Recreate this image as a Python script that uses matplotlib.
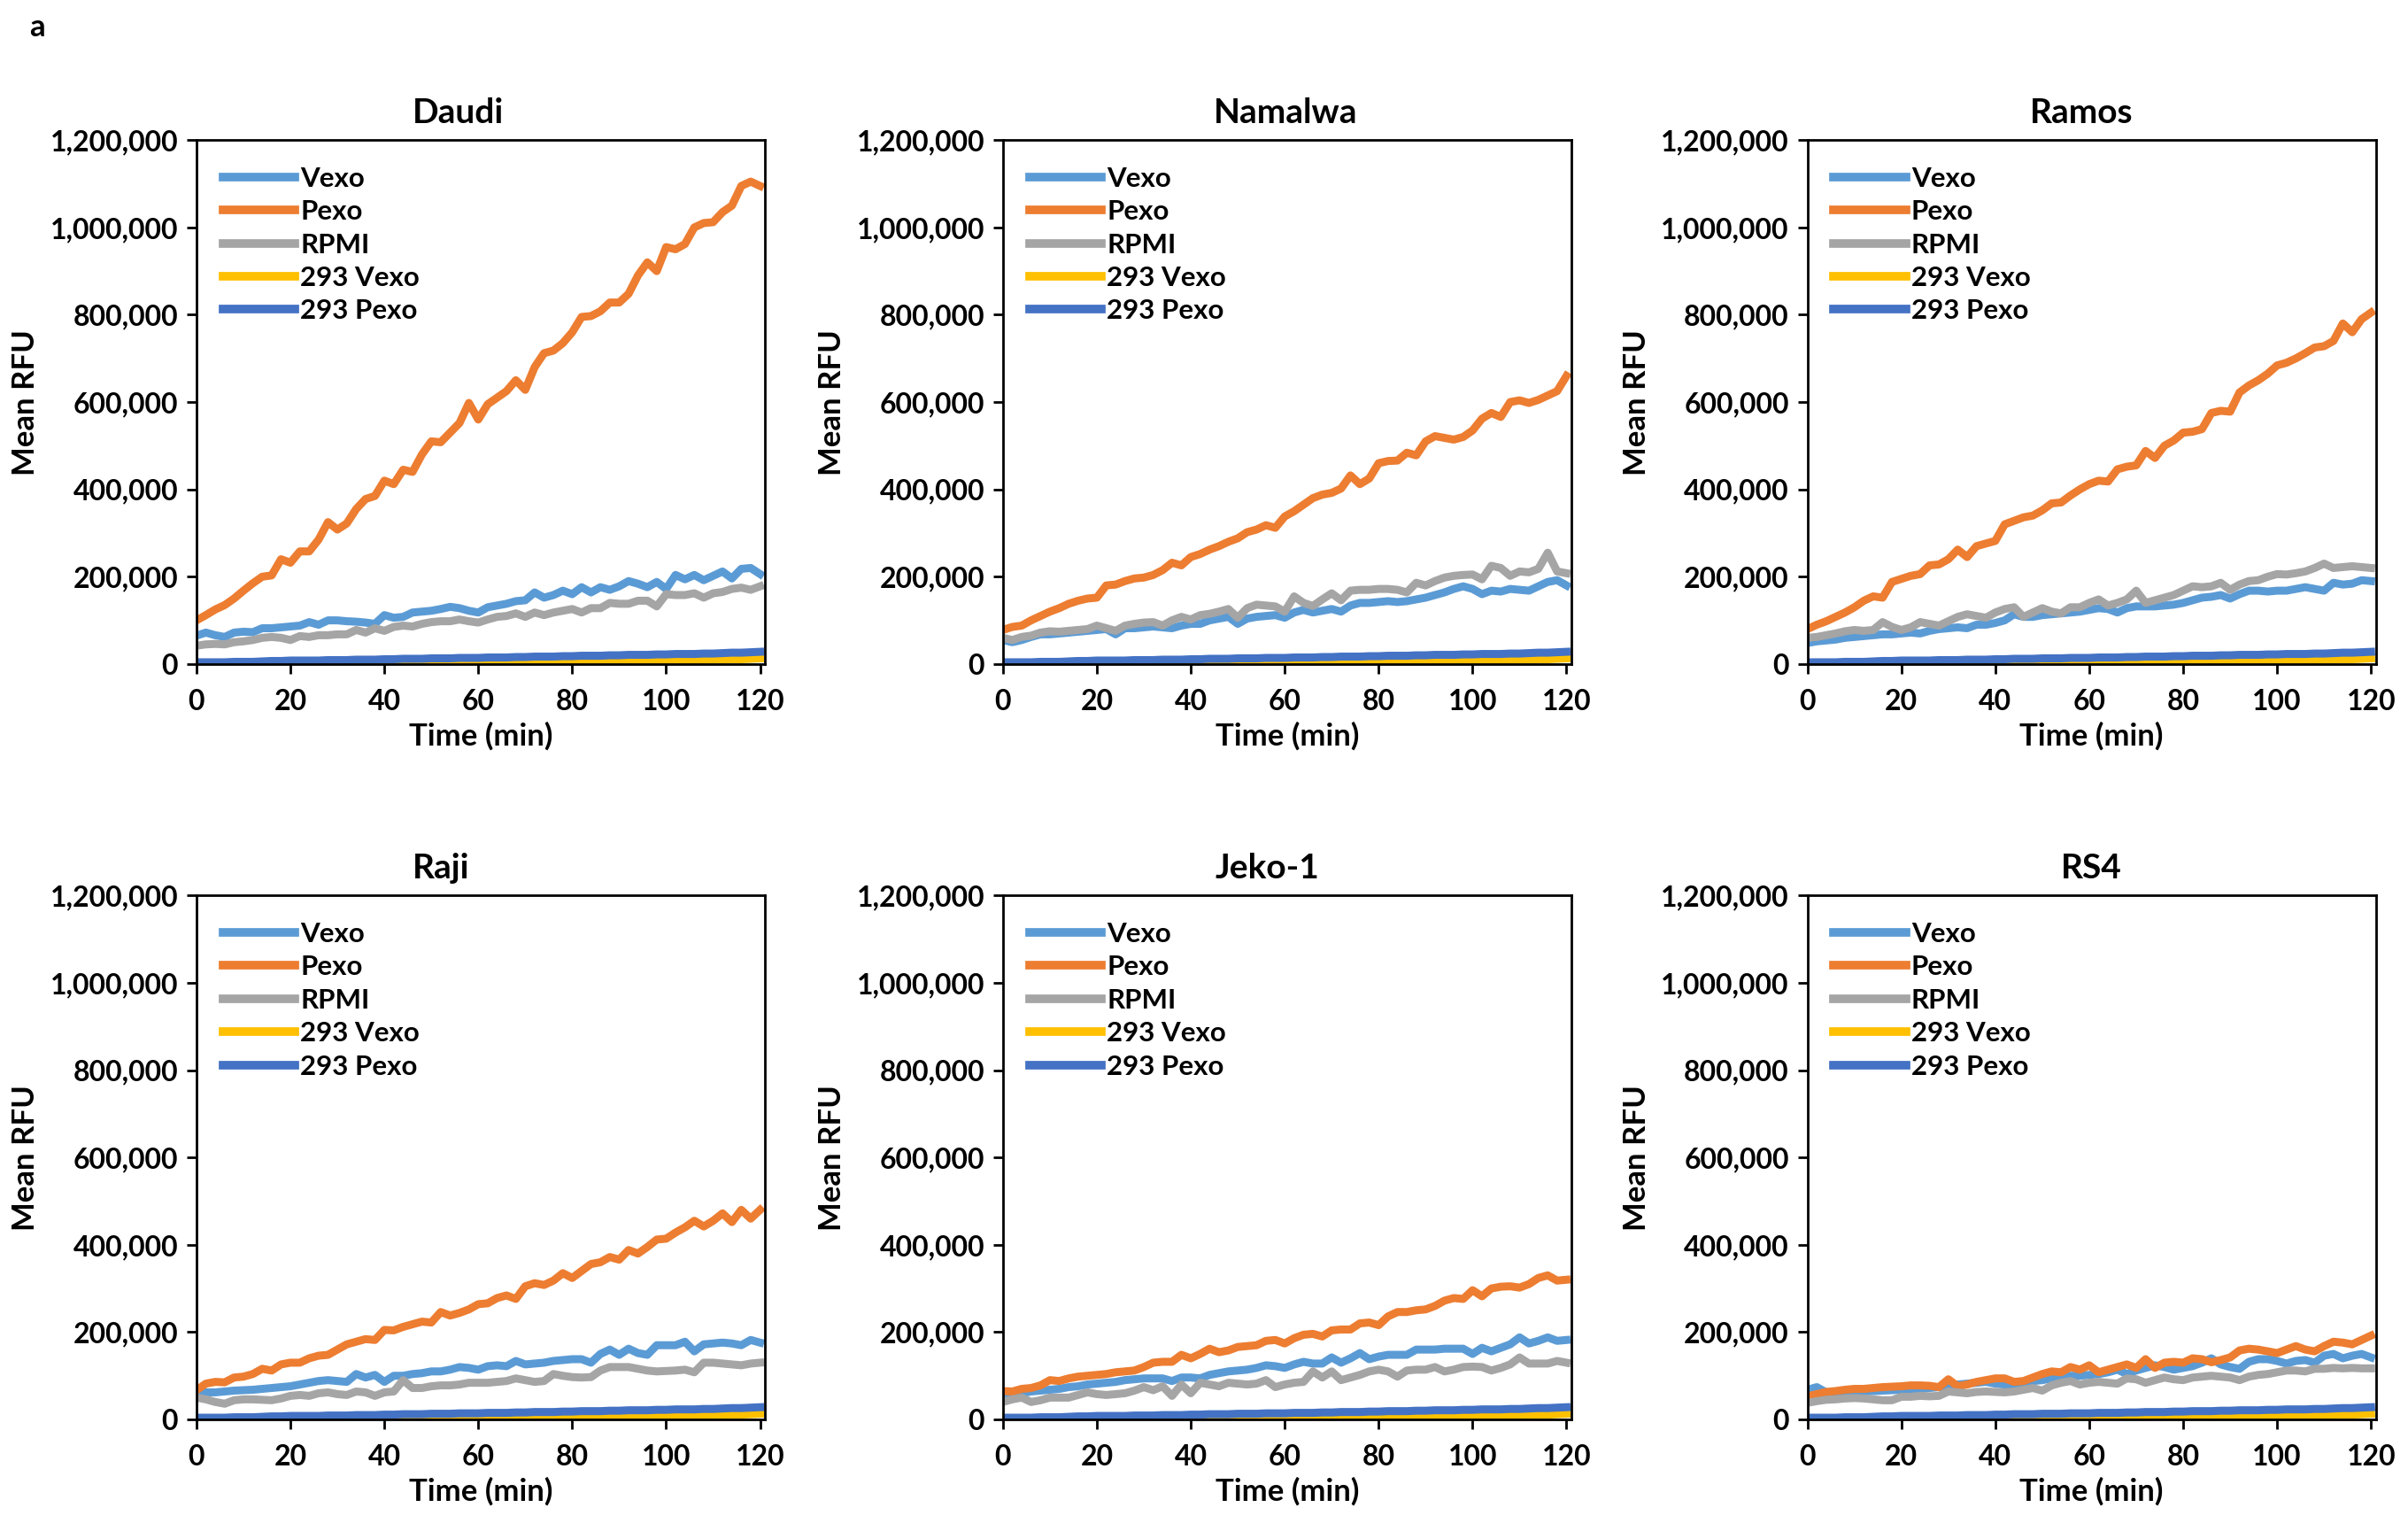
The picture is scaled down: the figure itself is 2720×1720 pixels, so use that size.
import numpy as np
import matplotlib
matplotlib.use('Agg')
import matplotlib.pyplot as plt
from matplotlib.ticker import FuncFormatter

plt.rcParams['font.family'] = ['Lato', 'DejaVu Sans']
plt.rcParams['font.weight'] = 'bold'

# Tempo de leitura (min)
time_min = list(range(0, 122, 2))

series_names = ['Vexo', 'Pexo', 'RPMI', '293 Vexo', '293 Pexo']
series_colors = ['#5B9BD5', '#ED7D31', '#A5A5A5', '#FFC000', '#4472C4']
panel_titles = ['Daudi', 'Namalwa', 'Ramos', 'Raji', 'Jeko-1', 'RS4']

# Valores em milhares de RFU
daudi_vexo = [65, 72, 66, 62, 72, 74, 73, 82, 82, 84, 86, 88, 96, 90, 100, 100, 98, 97, 95, 92,
              112, 106, 108, 118, 120, 122, 126, 131, 128, 122, 118, 130, 134, 138, 144, 146, 164, 152, 158, 168,
              160, 176, 164, 176, 170, 178, 190, 184, 176, 188, 172, 204, 194, 204, 192, 202, 212, 196, 218, 220, 206]
daudi_pexo = [100, 112, 125, 135, 150, 168, 185, 200, 203, 240, 232, 258, 258, 285, 325, 308, 322, 355, 378, 385,
              420, 412, 445, 440, 480, 510, 508, 530, 552, 598, 560, 595, 610, 625, 650, 628, 680, 712, 718, 735,
              760, 795, 797, 808, 828, 828, 848, 890, 920, 900, 955, 950, 962, 1000, 1010, 1012, 1035, 1050, 1095, 1105, 1095]
daudi_rpmi = [42, 45, 46, 45, 50, 52, 55, 60, 62, 60, 55, 64, 62, 66, 66, 68, 68, 78, 72, 82,
              76, 85, 88, 86, 92, 96, 98, 98, 102, 98, 95, 102, 108, 110, 116, 108, 118, 112, 118, 122,
              126, 118, 128, 128, 140, 138, 138, 145, 145, 132, 160, 158, 158, 162, 152, 162, 165, 172, 175, 170, 178]

namalwa_vexo = [55, 50, 55, 62, 68, 68, 70, 72, 74, 76, 78, 80, 68, 82, 82, 84, 86, 84, 82, 88,
                92, 92, 100, 104, 108, 92, 104, 108, 110, 112, 106, 118, 124, 118, 122, 126, 120, 134, 140, 140,
                142, 144, 142, 144, 148, 152, 158, 164, 172, 178, 172, 160, 168, 166, 172, 170, 168, 178, 188, 192, 180]
namalwa_pexo = [78, 85, 88, 100, 110, 120, 128, 138, 145, 150, 152, 180, 182, 190, 196, 198, 204, 215, 232, 226,
                245, 252, 262, 270, 280, 288, 302, 308, 318, 312, 338, 350, 365, 380, 388, 392, 402, 432, 412, 425,
                460, 465, 466, 484, 478, 510, 522, 518, 514, 520, 535, 562, 575, 566, 600, 604, 598, 605, 615, 625, 660]
namalwa_rpmi = [60, 55, 62, 65, 72, 75, 74, 76, 78, 80, 88, 82, 76, 88, 92, 95, 96, 88, 100, 108,
                102, 112, 115, 120, 126, 106, 128, 136, 134, 132, 120, 155, 140, 133, 148, 162, 146, 168, 170, 170,
                172, 172, 170, 164, 186, 180, 190, 198, 202, 204, 205, 194, 225, 220, 202, 212, 210, 218, 255, 212, 208]

ramos_vexo = [48, 52, 54, 56, 60, 62, 64, 66, 68, 68, 70, 72, 70, 76, 80, 82, 84, 82, 90, 90,
              94, 100, 114, 108, 108, 112, 114, 116, 118, 120, 124, 128, 126, 118, 128, 132, 132, 132, 134, 136,
              140, 146, 152, 154, 158, 150, 160, 168, 168, 166, 168, 168, 172, 176, 172, 168, 186, 182, 184, 192, 190]
ramos_pexo = [80, 90, 98, 108, 118, 130, 145, 155, 152, 188, 195, 202, 206, 226, 228, 240, 262, 245, 270, 276,
              282, 320, 328, 336, 340, 352, 368, 370, 386, 400, 412, 420, 418, 446, 452, 455, 488, 472, 500, 512,
              530, 532, 538, 575, 580, 578, 622, 638, 650, 665, 684, 690, 700, 712, 725, 728, 740, 780, 760, 790, 805]
ramos_rpmi = [60, 62, 66, 70, 75, 78, 76, 78, 96, 85, 78, 84, 96, 92, 88, 98, 108, 114, 110, 106,
              118, 126, 130, 108, 118, 128, 120, 116, 130, 130, 140, 148, 134, 140, 148, 168, 140, 146, 152, 158,
              168, 178, 176, 178, 186, 170, 182, 190, 192, 200, 206, 205, 208, 212, 220, 230, 220, 222, 224, 222, 220]

raji_vexo = [60, 62, 62, 64, 66, 67, 68, 70, 72, 74, 76, 80, 84, 88, 90, 88, 86, 104, 96, 102,
             86, 100, 100, 104, 106, 110, 110, 114, 120, 118, 114, 122, 124, 122, 134, 126, 128, 130, 134, 136,
             138, 138, 130, 150, 160, 148, 162, 152, 148, 170, 170, 170, 178, 156, 172, 174, 176, 174, 170, 182, 176]
raji_pexo = [67, 82, 86, 85, 96, 98, 104, 116, 112, 126, 130, 130, 140, 146, 148, 160, 172, 178, 184, 182,
             205, 204, 212, 218, 224, 222, 246, 238, 244, 252, 264, 266, 278, 284, 276, 305, 312, 308, 318, 335,
             324, 340, 356, 360, 372, 366, 388, 380, 395, 412, 414, 428, 440, 455, 442, 455, 472, 452, 480, 460, 480]
raji_rpmi = [50, 46, 40, 36, 44, 46, 46, 45, 44, 48, 54, 56, 54, 60, 62, 58, 56, 64, 62, 54,
             62, 64, 90, 72, 72, 76, 78, 78, 80, 84, 84, 84, 86, 88, 94, 90, 86, 88, 104, 100,
             97, 96, 97, 112, 120, 120, 120, 116, 112, 110, 111, 112, 114, 108, 130, 130, 128, 126, 124, 128, 130]

jeko_vexo = [56, 58, 60, 64, 66, 68, 70, 74, 76, 80, 82, 84, 86, 90, 92, 94, 94, 94, 88, 96,
             96, 94, 102, 106, 110, 112, 114, 118, 124, 122, 118, 126, 132, 128, 128, 142, 130, 140, 152, 138,
             144, 148, 148, 148, 160, 160, 160, 162, 162, 162, 150, 164, 156, 164, 172, 188, 174, 180, 188, 180, 182]
jeko_pexo = [65, 64, 70, 72, 78, 90, 88, 94, 98, 100, 102, 104, 108, 110, 112, 120, 130, 132, 132, 148,
             140, 150, 162, 154, 158, 166, 168, 170, 180, 182, 174, 186, 194, 196, 190, 204, 206, 206, 220, 222,
             216, 236, 246, 246, 250, 252, 260, 272, 278, 276, 296, 282, 300, 304, 305, 302, 310, 324, 330, 318, 320]
jeko_rpmi = [40, 46, 50, 40, 44, 50, 50, 50, 56, 62, 58, 56, 58, 60, 66, 74, 67, 76, 54, 80,
             60, 84, 80, 76, 84, 82, 80, 82, 90, 74, 80, 84, 86, 110, 96, 110, 90, 96, 102, 110,
             114, 110, 98, 112, 114, 114, 120, 110, 114, 120, 121, 120, 112, 118, 126, 142, 128, 128, 128, 134, 130]

rs4_vexo = [68, 74, 62, 60, 62, 63, 64, 65, 66, 67, 68, 70, 70, 72, 74, 78, 80, 82, 84, 86,
            82, 80, 80, 84, 88, 90, 94, 98, 100, 100, 102, 104, 108, 114, 104, 112, 118, 124, 120, 114,
            118, 122, 130, 140, 126, 120, 116, 132, 138, 138, 134, 128, 134, 136, 130, 146, 150, 140, 146, 150, 142]
rs4_pexo = [53, 58, 63, 65, 68, 70, 70, 72, 74, 75, 76, 78, 78, 77, 74, 92, 76, 80, 86, 90,
            94, 94, 86, 88, 96, 104, 110, 108, 120, 114, 124, 108, 114, 120, 126, 118, 138, 118, 130, 132,
            130, 140, 138, 131, 136, 142, 158, 162, 160, 156, 152, 160, 168, 160, 156, 168, 178, 176, 172, 182, 192]
rs4_rpmi = [38, 42, 45, 46, 48, 49, 48, 46, 44, 44, 52, 52, 54, 53, 54, 64, 62, 60, 63, 64,
            63, 62, 64, 68, 72, 66, 78, 84, 88, 80, 84, 86, 84, 82, 94, 92, 84, 90, 96, 92,
            90, 96, 98, 100, 98, 96, 90, 98, 102, 104, 108, 112, 112, 110, 116, 116, 118, 117, 118, 117, 117]

# Controles 293 (iguais em todos os painéis)
vexo_293 = [0, 0, 0, 0, 0, 0, 0, 0, 1, 1, 1, 1, 1, 1, 1, 1, 2, 2, 2, 2,
            2, 2, 2, 3, 3, 3, 3, 3, 3, 4, 4, 4, 4, 4, 5, 5, 5, 5, 5, 5,
            6, 6, 6, 6, 7, 7, 7, 7, 8, 8, 8, 8, 9, 9, 9, 10, 10, 11, 11, 12, 13]
pexo_293 = [4, 4, 4, 4, 5, 5, 5, 6, 7, 7, 8, 8, 8, 8, 9, 9, 9, 10, 10, 10,
            11, 11, 12, 12, 12, 13, 13, 13, 14, 14, 14, 15, 15, 15, 16, 16, 17, 17, 17, 18,
            18, 19, 19, 19, 20, 20, 21, 21, 21, 22, 22, 23, 23, 23, 24, 24, 25, 26, 26, 27, 28]

panels = [
    [daudi_vexo, daudi_pexo, daudi_rpmi, vexo_293, pexo_293],
    [namalwa_vexo, namalwa_pexo, namalwa_rpmi, vexo_293, pexo_293],
    [ramos_vexo, ramos_pexo, ramos_rpmi, vexo_293, pexo_293],
    [raji_vexo, raji_pexo, raji_rpmi, vexo_293, pexo_293],
    [jeko_vexo, jeko_pexo, jeko_rpmi, vexo_293, pexo_293],
    [rs4_vexo, rs4_pexo, rs4_rpmi, vexo_293, pexo_293],
]

fig = plt.figure(figsize=(27.2, 17.2), dpi=100)

lefts = [0.0816, 0.4165, 0.7506]
bottoms = [0.564, 0.068]
w, h = 0.236, 0.344
# posição horizontal dos títulos (fração do eixo)
title_x = [0.46, 0.497, 0.482, 0.43, 0.465, 0.5]

for i, (title, data) in enumerate(zip(panel_titles, panels)):
    ax = fig.add_axes([lefts[i % 3], bottoms[i // 3], w, h])
    for name, color, vals in zip(series_names, series_colors, data):
        ax.plot(time_min, np.array(vals) * 1000, color=color, lw=6.5, label=name)
    ax.set_xlim(0, 121)
    ax.set_ylim(0, 1200000)
    ax.set_xticks(range(0, 121, 20))
    ax.set_yticks(range(0, 1200001, 200000))
    ax.yaxis.set_major_formatter(FuncFormatter(lambda v, p: f'{int(v):,}'))
    ax.tick_params(axis='both', direction='out', length=8, width=2, labelsize=23, pad=7)
    ax.tick_params(axis='x', pad=12)
    for s in ax.spines.values():
        s.set_linewidth(2)
    ax.set_title(title, fontsize=28, fontweight='bold', pad=14, x=title_x[i])
    ax.set_xlabel('Time (min)', fontsize=25, fontweight='bold', labelpad=6)
    ax.set_ylabel('Mean RFU', fontsize=25, fontweight='bold', labelpad=8)
    leg = ax.legend(loc='upper left', frameon=False, fontsize=22.5, handlelength=2.6,
                    handletextpad=0.2, labelspacing=0.3, borderaxespad=0.55)
    for line in leg.get_lines():
        line.set_linewidth(7)

fig.text(0.012, 0.982, 'a', fontsize=25, fontweight='bold', va='center')

fig.savefig('out.png', dpi=100)
